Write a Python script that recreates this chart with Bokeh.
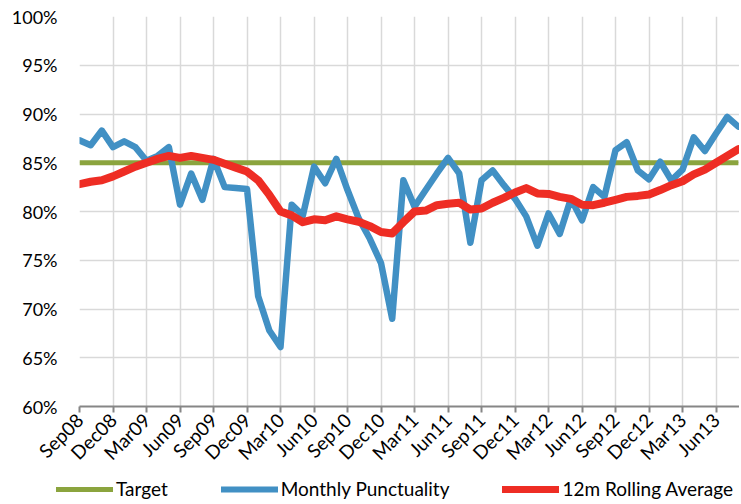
from math import pi
from bokeh.plotting import figure
from bokeh.layouts import column
from bokeh.models import FixedTicker, Legend, LegendItem, Range1d, PrintfTickFormatter
from bokeh.embed import file_html
from bokeh.resources import INLINE

tick_labels = ["Sep08", "Dec08", "Mar09", "Jun09", "Sep09", "Dec09", "Mar10", "Jun10",
               "Sep10", "Dec10", "Mar11", "Jun11", "Sep11", "Dec11", "Mar12", "Jun12",
               "Sep12", "Dec12", "Mar13", "Jun13", "Sep13"]

monthly = [87.3, 86.8, 88.3, 86.6, 87.2, 86.6, 85.2, 85.7, 86.6, 80.7,
           83.9, 81.2, 85.4, 82.5, 82.4, 82.3, 71.3, 67.8, 66.1, 80.7,
           79.6, 84.6, 82.9, 85.4, 82.2, 79.3, 77.2, 74.7, 69.0, 83.2,
           80.5, 82.2, 83.9, 85.5, 83.9, 76.8, 83.2, 84.2, 82.7, 81.3,
           79.5, 76.5, 79.8, 77.7, 81.3, 79.1, 82.5, 81.5, 86.3, 87.1,
           84.2, 83.3, 85.1, 83.2, 84.3, 87.6, 86.2, 88.0, 89.7, 88.7]

rolling = [82.8, 83.05, 83.2, 83.6, 84.1, 84.6, 85.0, 85.4, 85.7, 85.5,
           85.7, 85.5, 85.3, 84.9, 84.5, 84.1, 83.2, 81.7, 80.0, 79.6,
           78.9, 79.2, 79.1, 79.5, 79.2, 78.95, 78.5, 77.9, 77.75, 78.9,
           80.0, 80.1, 80.65, 80.8, 80.9, 80.2, 80.3, 80.9, 81.4, 81.95,
           82.4, 81.85, 81.8, 81.5, 81.3, 80.7, 80.65, 80.9, 81.2, 81.5,
           81.6, 81.75, 82.2, 82.7, 83.1, 83.8, 84.3, 85.0, 85.7, 86.4]

target = 85.0
month_idx = list(range(len(monthly)))
target_series = [target for _ in month_idx]

series_names = ["Target", "Monthly Punctuality", "12m Rolling Average"]
GREEN, BLUE, RED = "#8BA43E", "#4190C4", "#EE2D24"
FONT = "Lato"

p = figure(width=739, height=476, output_backend="svg", toolbar_location=None,
           x_range=Range1d(0, 59.1), y_range=Range1d(60, 100),
           min_border_left=79, min_border_right=0, min_border_top=16, min_border_bottom=70)
p.frame_align = False
p.outline_line_color = None
p.background_fill_color = "white"
p.border_fill_color = "white"

p.line(month_idx, target_series, line_color=GREEN, line_width=5)
p.line(month_idx, monthly, line_color=BLUE, line_width=6.5,
       line_join="round", line_cap="round")
p.line(month_idx, rolling, line_color=RED, line_width=8,
       line_join="round", line_cap="round")

# x axis
p.xaxis.ticker = FixedTicker(ticks=[3 * i for i in range(len(tick_labels))])
p.xaxis.major_label_overrides = {3 * i: lab for i, lab in enumerate(tick_labels)}
p.xaxis.major_label_orientation = pi / 4
p.xaxis.major_label_text_font = FONT
p.xaxis.major_label_text_font_size = "19px"
p.xaxis.major_label_text_color = "#000000"
p.xaxis.axis_line_color = "#868686"
p.xaxis.axis_line_width = 2
p.xaxis.major_tick_line_color = "#868686"
p.xaxis.major_tick_line_width = 2
p.xaxis.major_tick_out = 6
p.xaxis.major_tick_in = 0
p.xaxis.minor_tick_line_color = None
p.xaxis.major_label_standoff = 4

# y axis
p.yaxis.ticker = FixedTicker(ticks=[60, 65, 70, 75, 80, 85, 90, 95, 100])
p.yaxis.formatter = PrintfTickFormatter(format="%d%%")
p.yaxis.axis_line_color = None
p.yaxis.major_tick_line_color = None
p.yaxis.minor_tick_line_color = None
p.yaxis.major_label_standoff = 16
p.yaxis.major_label_text_font = FONT
p.yaxis.major_label_text_font_size = "18px"
p.yaxis.major_label_text_color = "#000000"

p.xgrid.grid_line_color = "#D9D9D9"
p.xgrid.grid_line_width = 1.5
p.ygrid.grid_line_color = "#D9D9D9"
p.ygrid.grid_line_width = 1.5

# legend strip: a separate figure (its ranges keep the series out of view),
# so the legend can sit left of the main plot frame without being clipped
lg = figure(width=739, height=24, output_backend="svg", toolbar_location=None,
            x_axis_type=None, y_axis_type=None, min_border=0,
            x_range=Range1d(-1000, -999), y_range=Range1d(-1000, -999))
lg.frame_align = False
lg.outline_line_color = None
lg.grid.visible = False
k_t = lg.line(month_idx, target_series, line_color=GREEN, line_width=5, line_cap="round")
k_m = lg.line(month_idx, monthly, line_color=BLUE, line_width=6, line_cap="round")
k_r = lg.line(month_idx, rolling, line_color=RED, line_width=7, line_cap="round")
legend = Legend(items=[LegendItem(label=n, renderers=[r])
                       for n, r in zip(series_names, [k_t, k_m, k_r])],
                location=(56, 0), orientation="horizontal",
                border_line_color=None, background_fill_alpha=0,
                padding=0, margin=0, spacing=53, label_standoff=3,
                glyph_width=57, glyph_height=20, label_height=20,
                label_text_font=FONT, label_text_font_size="19px",
                label_text_color="#000000")
lg.add_layout(legend)

layout = column(p, lg, spacing=0)
open("out.html", "w").write(file_html(layout, INLINE))
